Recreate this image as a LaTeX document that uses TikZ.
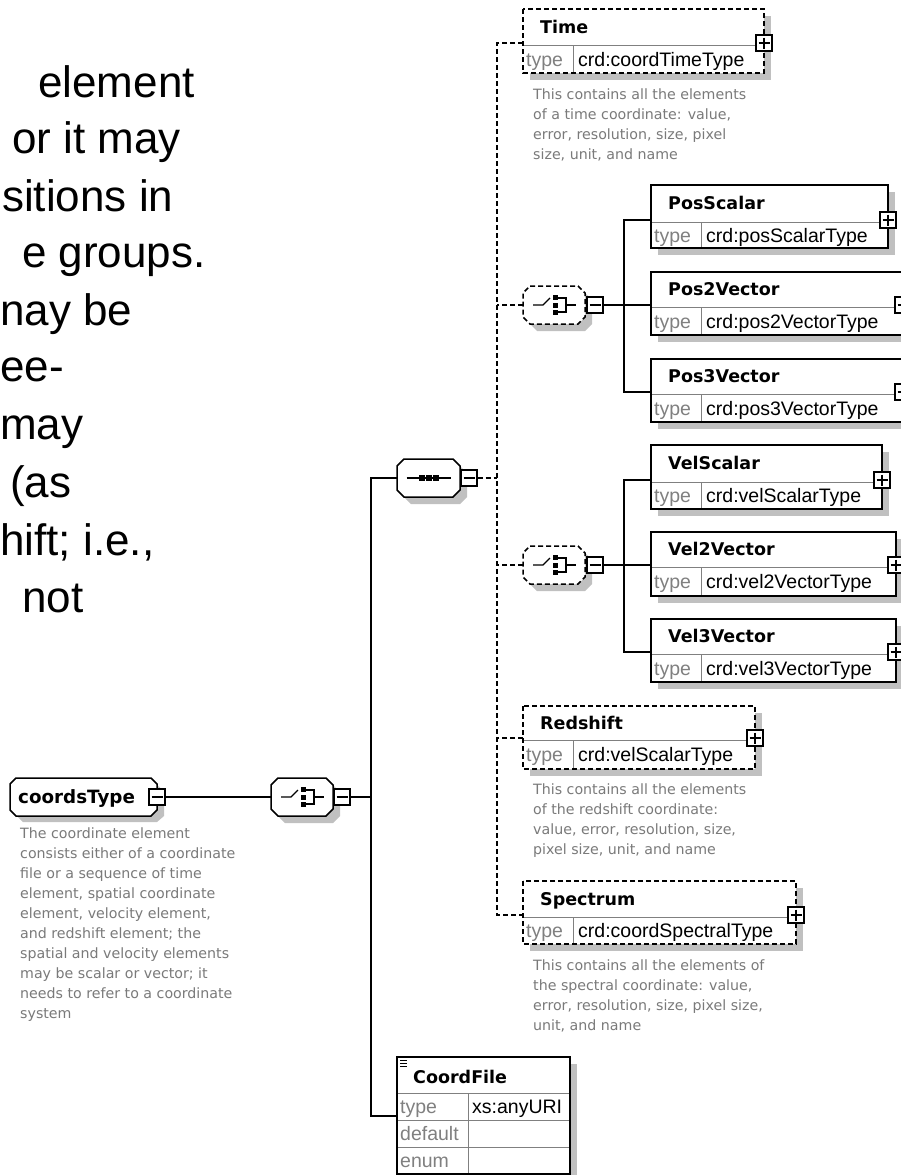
\documentclass[tikz,border=0pt]{standalone}
\usepackage{fontspec}
\setmainfont{Liberation Sans}
\newfontfamily\dejavu{DejaVu Sans}
\usetikzlibrary{calc}

\definecolor{shd}{RGB}{192,192,192}
\definecolor{lblgray}{RGB}{128,128,128}
\definecolor{descgray}{RGB}{122,122,122}
\definecolor{rulegray}{RGB}{128,128,128}

\tikzset{
  conn/.style={line width=1.4pt, black},
  dsh/.style={dash pattern=on 5pt off 3pt},
  ebox/.style={draw=black, line width=1.5pt, fill=white, inner sep=0pt, outer sep=0pt},
  divline/.style={draw=rulegray, line width=1pt},
  ttl/.style={font=\dejavu\bfseries\fontsize{17.5}{20}\selectfont, inner sep=0pt, anchor=base west},
  lbl/.style={font=\fontsize{19.5}{22}\selectfont, text=lblgray, inner sep=0pt, anchor=base west},
  val/.style={font=\fontsize{19.5}{22}\selectfont, inner sep=0pt, anchor=base west},
  desc/.style={font=\dejavu\fontsize{14.2}{20}\selectfont, text=descgray, align=left, inner sep=0pt, anchor=north west},
  pm/.style={draw=black, line width=1.3pt, fill=white, minimum size=16pt, inner sep=0pt},
  pmline/.style={line width=1.3pt},
  icon/.style={line width=1.3pt},
  big/.style={font=\fontsize{44}{53}\selectfont, inner sep=0pt, anchor=base west},
}

% small expand/collapse squares
\newcommand\plusbox[3]{%
  \node[pm] (#1) at (#2,#3) {};
  \draw[pmline] (#2-5.5,#3) -- (#2+5.5,#3) (#2,#3-5.5) -- (#2,#3+5.5);
}
\newcommand\minusbox[3]{%
  \node[pm] (#1) at (#2,#3) {};
  \draw[pmline] (#2-5.5,#3) -- (#2+5.5,#3);
}

% element box: border style, name, x1, y1, x2, divider y, y2, title, type
\newcommand\elembox[9]{%
  \fill[shd] (#3+7,#4+7) rectangle (#5+7,#7+7);
  \node[ebox, draw=none, minimum width=#5-#3, minimum height=#7-#4, anchor=north west] (#2) at (#3,#4) {};
  \draw[divline] (#3,#6) -- (#5,#6) (#3+50,#6) -- (#3+50,#7);
  \draw[ebox, fill=none, #1] (#2.north west) rectangle (#2.south east);
  \node[ttl] (#2-name) at (#3+17,{(#4+#6)/2+6.4}) {#8};
  \node[lbl] (#2-key) at (#3+3,{(#6+#7)/2+7}) {type};
  \node[val] (#2-type) at (#3+55,{(#6+#7)/2+7}) {#9};
  \coordinate (#2-in) at (#3,#6-2);
  \plusbox{#2-pm}{#5}{#6-2}
}

% model group octagon: border style, name, x1, y1, x2, y2
\newcommand\octo[6]{%
  \fill[shd] (#3+14,#4+7) -- (#5,#4+7) -- (#5+7,#4+14) -- (#5+7,#6) -- (#5,#6+7) -- (#3+14,#6+7) -- (#3+7,#6) -- (#3+7,#4+14) -- cycle;
  \node[inner sep=0pt, outer sep=0pt, minimum width=#5-#3, minimum height=#6-#4, anchor=north west] (#2) at (#3,#4) {};
  \draw[ebox, #1] (#3+7,#4) -- (#5-7,#4) -- (#5,#4+7) -- (#5,#6-7) -- (#5-7,#6) -- (#3+7,#6) -- (#3,#6-7) -- (#3,#4+7) -- cycle;
}

% choice symbol
\newcommand\choiceicon[2]{%
  \draw[icon] (#1-21,#2) -- (#1-11,#2) -- (#1-4,#2-7);
  \fill (#1-1,#2-10) rectangle (#1+4,#2-5);
  \fill (#1-1,#2-2.5) rectangle (#1+4,#2+2.5);
  \fill (#1-1,#2+5) rectangle (#1+4,#2+10);
  \draw[icon] (#1+4,#2-7) -- (#1+12,#2-7) -- (#1+12,#2+7) -- (#1+4,#2+7) (#1+12,#2) -- (#1+22,#2);
}
% sequence symbol
\newcommand\seqicon[2]{%
  \draw[icon] (#1-22,#2) -- (#1+22,#2);
  \fill (#1-10,#2-3) rectangle (#1-4,#2+3);
  \fill (#1-3,#2-3) rectangle (#1+3,#2+3);
  \fill (#1+4,#2-3) rectangle (#1+10,#2+3);
}

\begin{document}
\begin{tikzpicture}[x=1pt,y=-1pt]
\useasboundingbox (0,0) rectangle (901,1175);
\clip (0,0) rectangle (901,1175);
\fill[white] (0,0) rectangle (901,1175);

% ---- slide text running off the left edge
\node[big] (l1) at (38,97) {element};
\node[big] (l2) at (12,153) {or it may};
\node[big] (l3) at (2,211) {sitions in};
\node[big] (l4) at (22,267) {e groups.};
\node[big] (l5) at (0,325) {nay be};
\node[big] (l6) at (0,381) {ee-};
\node[big] (l7) at (0,439) {may};
\node[big] (l8) at (10,497) {(as};
\node[big] (l9) at (0,555) {hift; i.e.,};
\node[big] (l10) at (22,612) {not};

% ---- root complex type
\fill[shd] (23,785) -- (157,785) -- (164,791) -- (164,816) -- (157,822) -- (23,822) -- (17,816) -- (17,791) -- cycle;
\node[inner sep=0pt, outer sep=0pt, minimum width=147, minimum height=38, anchor=north west] (ct) at (10,778) {};
\draw[ebox] (16,778) -- (151,778) -- (157,784) -- (157,810) -- (151,816) -- (16,816) -- (10,810) -- (10,784) -- cycle;
\node[ttl, font=\dejavu\bfseries\fontsize{18.3}{20}\selectfont] (ct-name) at (18,803.5) {coordsType};
\minusbox{ct-pm}{157}{797}
\node[desc] (ct-desc) at (20,827) {The coordinate element\\consists either of a coordinate\\file or a sequence of time\\element, spatial coordinate\\element, velocity element,\\and redshift element; the\\spatial and velocity elements\\may be scalar or vector; it\\needs to refer to a coordinate\\system};

% ---- top-level choice
\octo{}{c0}{271}{778}{333}{816}
\choiceicon{302}{797}
\minusbox{c0-pm}{342}{797}

% ---- sequence
\octo{}{sq}{397}{459}{460}{497}
\seqicon{428.5}{478}
\minusbox{sq-pm}{469}{478}

% ---- optional choices
\octo{dsh}{c1}{523}{286}{585}{324}
\choiceicon{554}{305}
\minusbox{c1-pm}{595}{305}
\octo{dsh}{c2}{523}{546}{585}{584}
\choiceicon{554}{565}
\minusbox{c2-pm}{595}{565}

% ---- elements
\elembox{dsh}{time}{523}{9}{764}{45}{73}{Time}{crd:coordTimeType}
\node[desc] (time-desc) at (533,89) {This contains all the elements\\of a time coordinate: value,\\error, resolution, size, pixel\\size, unit, and name};

\elembox{}{ps}{651}{185}{888}{222}{248}{PosScalar}{crd:posScalarType}
\elembox{}{p2}{651}{272}{903}{307}{335}{Pos2Vector}{crd:pos2VectorType}
\elembox{}{p3}{651}{359}{903}{394}{422}{Pos3Vector}{crd:pos3VectorType}

\elembox{}{vs}{651}{445}{882}{482}{509}{VelScalar}{crd:velScalarType}
\elembox{}{v2}{651}{532}{896}{567}{596}{Vel2Vector}{crd:vel2VectorType}
\elembox{}{v3}{651}{619}{896}{654}{682}{Vel3Vector}{crd:vel3VectorType}

\elembox{dsh}{red}{523}{706}{755}{740}{769}{Redshift}{crd:velScalarType}
\node[desc] (red-desc) at (533,784) {This contains all the elements\\of the redshift coordinate:\\value, error, resolution, size,\\pixel size, unit, and name};

\elembox{dsh}{spec}{523}{881}{796}{917}{944}{Spectrum}{crd:coordSpectralType}
\node[desc] (spec-desc) at (533,959) {This contains all the elements of\\the spectral coordinate: value,\\error, resolution, size, pixel size,\\unit, and name};

% ---- CoordFile simple element
\fill[shd] (577,1064) rectangle (570,1182);
\node[ebox, draw=none, minimum width=173, minimum height=117, anchor=north west] (cf) at (397,1057) {};
\draw[divline] (397,1093) -- (570,1093) (397,1120) -- (570,1120) (397,1147) -- (570,1147) (468,1093) -- (468,1174);
\draw[ebox, fill=none] (cf.north west) rectangle (cf.south east);
\draw[line width=0.9pt] (400,1060) -- (407,1060) (400,1063) -- (407,1063) (400,1066) -- (407,1066);
\node[ttl] (cf-name) at (413,1083) {CoordFile};
\node[lbl] (cf-k1) at (400,1113.5) {type};
\node[lbl] (cf-k2) at (400,1140.5) {default};
\node[lbl] (cf-k3) at (400,1167.5) {enum};
\node[val] (cf-v1) at (472,1113.5) {xs:anyURI};
\coordinate (cf-in) at (397,1116);

% ---- connectors
\coordinate (b0) at (371,797);
\coordinate (t0) at (497,478);
\coordinate (b1) at (624,305);
\coordinate (b2) at (624,565);

\draw[conn] (ct-pm.east) -- (c0.west);
\draw[conn] (c0-pm.east) -- (b0);
\draw[conn] (sq.west) -| (b0) |- (cf-in);

\draw[conn,dsh] (sq-pm.east) -- (t0);
\draw[conn,dsh] (time-in) -| (t0) |- (spec-in);
\draw[conn,dsh] (c1.west) -- (c1.west -| t0);
\draw[conn,dsh] (c2.west) -- (c2.west -| t0);
\draw[conn,dsh] (red-in) -- (red-in -| t0);

\draw[conn] (c1-pm.east) -- (b1);
\draw[conn] (ps-in) -| (b1) |- (p3-in);
\draw[conn] (b1) -- (p2-in);

\draw[conn] (c2-pm.east) -- (b2);
\draw[conn] (vs-in) -| (b2) |- (v3-in);
\draw[conn] (b2) -- (v2-in);
\end{tikzpicture}
\end{document}
